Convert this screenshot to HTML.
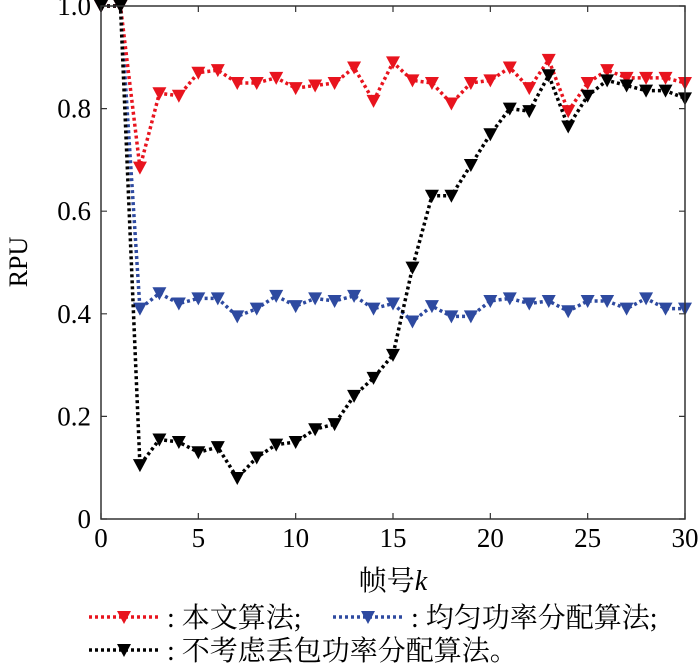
<!DOCTYPE html>
<html><head><meta charset="utf-8"><style>
body{margin:0;background:#fff;}
svg text{font-family:"Liberation Serif","Noto Serif CJK SC","Noto Sans CJK SC",serif;fill:#000;}
</style></head><body>
<svg id="chart" width="700" height="666" viewBox="0 0 700 666" xmlns="http://www.w3.org/2000/svg">
<g id="plot"></g>
<g id="axes"></g>
</svg>
<script>
const frames=[0,1,2,3,4,5,6,7,8,9,10,11,12,13,14,15,16,17,18,19,20,21,22,23,24,25,26,27,28,29,30];
const proposed=[1,1,0.685,0.83,0.825,0.87,0.875,0.85,0.85,0.86,0.84,0.845,0.85,0.88,0.815,0.89,0.855,0.85,0.81,0.85,0.855,0.88,0.84,0.895,0.795,0.85,0.875,0.86,0.86,0.86,0.85];
const equalPower=[1,1,0.41,0.44,0.42,0.43,0.43,0.395,0.41,0.435,0.415,0.43,0.425,0.435,0.41,0.42,0.385,0.415,0.395,0.395,0.425,0.43,0.42,0.425,0.405,0.425,0.425,0.41,0.43,0.41,0.41];
const noLoss=[1,1,0.105,0.155,0.15,0.13,0.14,0.08,0.12,0.145,0.15,0.175,0.185,0.24,0.275,0.32,0.49,0.63,0.63,0.69,0.75,0.8,0.795,0.865,0.765,0.825,0.855,0.845,0.835,0.835,0.82];
const xTicks=[0,5,10,15,20,25,30];
const yTicks=[0,0.2,0.4,0.6,0.8,1.0];
const yTickLabels=["0","0.2","0.4","0.6","0.8","1.0"];

const L=101,R=685,T=6,B=519;
const x=v=>L+(v-0)/30*(R-L);
const y=v=>B-v*(B-T);
const NS="http://www.w3.org/2000/svg";
const plot=document.getElementById('plot'),axes=document.getElementById('axes');
function mk(tag,attrs,parent){const e=document.createElementNS(NS,tag);for(const k in attrs)e.setAttribute(k,attrs[k]);parent.appendChild(e);return e;}

const frame=mk('rect',{x:L,y:T,width:R-L,height:B-T,fill:'none',stroke:'#333','stroke-width':1.5},axes);



xTicks.forEach(t=>{
  const px=x(t);
  const tk=mk('path',{d:`M${px},${B}V${B-6}M${px},${T}V${T+6}`,stroke:'#333','stroke-width':1.2},axes);
  
  
  const lb=mk('text',{x:px,y:B+28,'text-anchor':'middle','font-size':27},axes);
  lb.textContent=t;
  
  
});
yTicks.forEach((t,i)=>{
  const py=y(t);
  const tk=mk('path',{d:`M${L},${py}H${L+6}M${R},${py}H${R-6}`,stroke:'#333','stroke-width':1.2},axes);
  
  
  const lb=mk('text',{x:L-10,y:py+9,'text-anchor':'end','font-size':27},axes);
  lb.textContent=yTickLabels[i];
  
  
});
const yt=mk('text',{x:0,y:0,'text-anchor':'middle','font-size':26,transform:`translate(27,262) rotate(-90)`},axes);
yt.textContent='RPU';


const xt=mk('text',{x:393,y:590,'text-anchor':'middle','font-size':28},axes);
xt.innerHTML='帧号<tspan font-style="italic">k</tspan>';



function tri(cx,cy,c,parent){
  return mk('path',{d:`M${cx-7},${cy-6}L${cx+7},${cy-6}L${cx},${cy+7}Z`,fill:c},parent);
}
function series(vals,color,name){
  const g=mk('g',{},plot);
  
  
  const d=vals.map((v,i)=>(i?'L':'M')+x(frames[i])+','+y(v)).join('');
  const p=mk('path',{d,fill:'none',stroke:color,'stroke-width':3.5,'stroke-dasharray':'3 3'},g);
  
  
  vals.forEach((v,i)=>{
    const m=tri(x(frames[i]),y(v),color,g);
    
    
  });
}
series(equalPower,'#2e4aa0','equal-power-series');
series(proposed,'#e8141e','proposed-series');
series(noLoss,'#000','no-loss-series');

function legend(x0,yy,color,label,name){
  const g=mk('g',{},axes);
  
  
  mk('path',{d:`M${x0},${yy}H${x0+70}`,stroke:color,'stroke-width':3.5,'stroke-dasharray':'3 3'},g);
  tri(x0+35,yy,color,g);
  const t=mk('text',{x:x0+78,y:yy+10,'font-size':28},g);
  t.textContent=label;
}
legend(89,617,'#e8141e',': 本文算法;','legend-proposed');
legend(333,617,'#2e4aa0',': 均匀功率分配算法;','legend-equal-power');
legend(89,650,'#000',': 不考虑丢包功率分配算法。','legend-no-loss');
</script>
</body></html>
